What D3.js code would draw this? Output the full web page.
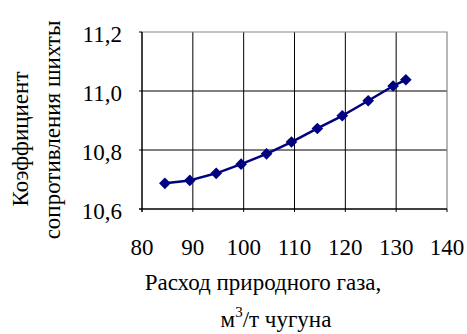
<!DOCTYPE html>
<html>
<head>
<meta charset="utf-8">
<script src="https://cdn.jsdelivr.net/npm/d3@7"></script>
</head>
<body style="margin:0">
<svg id="chart" width="467" height="334"></svg>
<script>
// gas consumption, m3/t pig iron
let gasFlow = [84.5, 89.4, 94.6, 99.5, 104.5, 109.4, 114.5, 119.4, 124.5, 129.4, 131.9];
// burden resistance coefficient
let resistance = [10.687, 10.697, 10.721, 10.752, 10.787, 10.827, 10.873, 10.916, 10.967, 11.017, 11.038];
let xTicks = [80, 90, 100, 110, 120, 130, 140];
let yTicks = [10.6, 10.8, 11.0, 11.2];

let margin = {"left": 142, "top": 32, "right": 20, "bottom": 125};
let width = 467;
let height = 334;
let fontSize = 23;
let fontName = "Times New Roman";

let svg = d3.select("#chart");

let x = d3.scaleLinear()
	.domain([80, 140])
	.range([margin.left, width - margin.right]);
let y = d3.scaleLinear()
	.domain([10.6, 11.2])
	.range([height - margin.bottom, margin.top]);

let fmt = d => d.toFixed(1).replace(".", ",");

// grid
svg.append("g")
	.selectAll("line.v")
	.data(xTicks.slice(1, -1))
	.join("line")
	.attr("x1", d => x(d)).attr("x2", d => x(d))
	.attr("y1", margin.top).attr("y2", height - margin.bottom + 3)
	.attr("stroke", "#000").attr("stroke-width", 1);
svg.append("g")
	.selectAll("line.h")
	.data(yTicks.slice(1, -1))
	.join("line")
	.attr("x1", margin.left - 3).attr("x2", width - margin.right)
	.attr("y1", d => y(d)).attr("y2", d => y(d))
	.attr("stroke", "#000").attr("stroke-width", 1);

// frame: top/right grey
svg.append("path")
	.attr("d", `M${margin.left},${y(11.2)}H${x(140)}V${y(10.6)}`)
	.attr("fill", "none").attr("stroke", "#888").attr("stroke-width", 1.2);
svg.append("line")
	.attr("x1", margin.left - 3).attr("x2", margin.left)
	.attr("y1", y(11.2)).attr("y2", y(11.2))
	.attr("stroke", "#000");
svg.append("line")
	.attr("x1", x(140)).attr("x2", x(140))
	.attr("y1", y(10.6)).attr("y2", y(10.6) + 3)
	.attr("stroke", "#000");

// axes lines
svg.append("line")
	.attr("x1", margin.left).attr("x2", margin.left)
	.attr("y1", margin.top).attr("y2", height - margin.bottom + 3)
	.attr("stroke", "#000").attr("stroke-width", 1.5);
svg.append("line")
	.attr("x1", margin.left - 3).attr("x2", x(140))
	.attr("y1", y(10.6)).attr("y2", y(10.6))
	.attr("stroke", "#000").attr("stroke-width", 1.5);

// tick labels
svg.append("g")
	.selectAll("text")
	.data(yTicks)
	.join("text")
	.attr("x", margin.left - 20)
	.attr("y", d => y(d) + 10)
	.attr("text-anchor", "end")
	.attr("font-family", fontName)
	.attr("font-size", fontSize)
	.text(fmt);
svg.append("g")
	.selectAll("text")
	.data(xTicks)
	.join("text")
	.attr("x", d => x(d))
	.attr("y", 255)
	.attr("text-anchor", "middle")
	.attr("font-family", fontName)
	.attr("font-size", fontSize)
	.text(d => d);

// series
let pts = gasFlow.map((g, i) => [g, resistance[i]]);
const line = d3.line()
	.x(d => x(d[0]))
	.y(d => y(d[1]));
svg.append("path")
	.attr("d", line(pts))
	.attr("fill", "none")
	.attr("stroke", "#000080")
	.attr("stroke-width", 2.5)
	.attr("stroke-linejoin", "round");
svg.append("g")
	.selectAll("path")
	.data(pts)
	.join("path")
	.attr("d", d3.symbol(d3.symbolSquare, 68))
	.attr("transform", d => `translate(${x(d[0])},${y(d[1])}) rotate(45)`)
	.attr("fill", "#000080");

// titles
svg.append("text")
	.attr("x", 263).attr("y", 290)
	.attr("text-anchor", "middle")
	.attr("font-family", fontName)
	.attr("font-size", fontSize)
	.text("Расход природного газа,");
let t2 = svg.append("text")
	.attr("x", 276).attr("y", 327)
	.attr("text-anchor", "middle")
	.attr("font-family", fontName)
	.attr("font-size", fontSize);
t2.append("tspan").text("м");
t2.append("tspan").attr("dy", -10).attr("font-size", 15).text("3");
t2.append("tspan").attr("dy", 10).text("/т чугуна");

svg.append("text")
	.attr("transform", "translate(28,139) rotate(-90)")
	.attr("text-anchor", "middle")
	.attr("font-family", fontName)
	.attr("font-size", fontSize)
	.text("Коэффициент");
svg.append("text")
	.attr("transform", "translate(60,130) rotate(-90)")
	.attr("text-anchor", "middle")
	.attr("font-family", fontName)
	.attr("font-size", fontSize)
	.text("сопротивления шихты");
</script>
</body>
</html>
